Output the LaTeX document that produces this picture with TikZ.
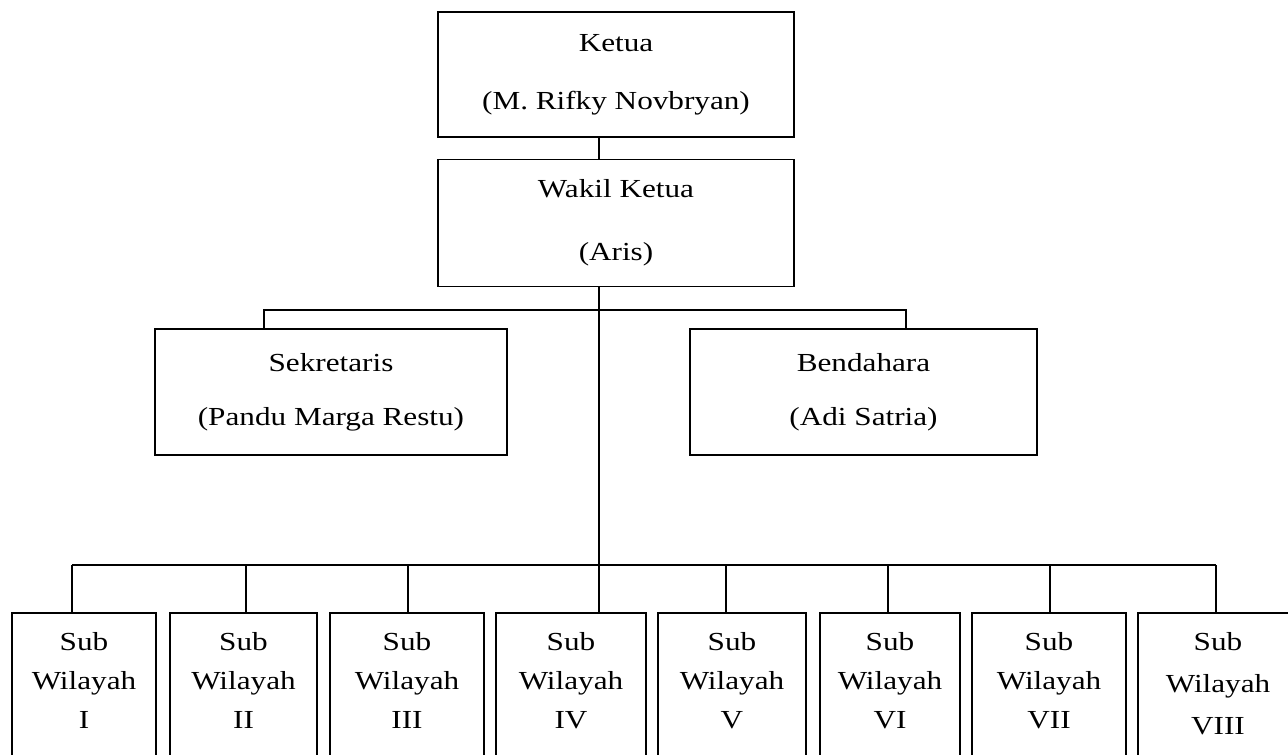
\documentclass[tikz,border=0pt]{standalone}
\usepackage{fontspec}
\setmainfont{Liberation Serif}[FakeStretch=1.2]
\usetikzlibrary{positioning}
\tikzset{x=1pt, y=-1pt, % One unit is one pixel, y runs downwards
  every node/.style={           align=center,
},
         box/.style={ % Sets the properties for each box
           draw,
           line width=1.6pt,
           inner sep=0pt},
         subbox/.style={ % Tall boxes of the bottom row
           box,
           anchor=north,
           minimum height=200pt},
         bigtext/.style={font=\fontsize{26}{58}\selectfont},
         subtext/.style={font=\fontsize{26}{39}\selectfont, inner sep=0pt},
         link/.style={  % Sets the properties for each connector
           draw,
           line width=1.6pt}}

\begin{document}
\begin{tikzpicture}
  \useasboundingbox (0,0) rectangle (1288,755);
  \clip (0,0) rectangle (1288,755);

  \node [box, bigtext, minimum width=356pt, minimum height=125pt] (ketua) at (616,74.5) {
    Ketua\\
    (M. Rifky Novbryan)
  };
  \node [box, bigtext, font=\fontsize{26}{63}\selectfont, minimum width=356pt, minimum height=127pt,
    below=21pt of ketua] (wakil) {
    Wakil Ketua\\
    (Aris)
  };

  \node [box, bigtext, font=\fontsize{26}{54}\selectfont, minimum width=352pt, minimum height=126pt] (sekre) at (331,392) {
    Sekretaris\\
    (Pandu Marga Restu)
  };
  \node [box, bigtext, font=\fontsize{26}{54}\selectfont, minimum width=347pt, minimum height=126pt] (benda) at (863.5,392) {
    Bendahara\\
    (Adi Satria)
  };

  % bottom row
  \node [subbox, minimum width=144pt] (sub1) at (84,612) {};
  \node [subbox, minimum width=147pt] (sub2) at (243.5,612) {};
  \node [subbox, minimum width=154pt] (sub3) at (407,612) {};
  \node [subbox, minimum width=150pt] (sub4) at (571,612) {};
  \node [subbox, minimum width=148pt] (sub5) at (732,612) {};
  \node [subbox, minimum width=140pt] (sub6) at (890,612) {};
  \node [subbox, minimum width=154pt] (sub7) at (1049,612) {};
  \node [subbox, minimum width=160pt] (sub8) at (1218,612) {};

  \node [subtext, below=20pt of sub1.north] (txt1) {Sub\\Wilayah\\I};
  \node [subtext, below=20pt of sub2.north] (txt2) {Sub\\Wilayah\\II};
  \node [subtext, below=20pt of sub3.north] (txt3) {Sub\\Wilayah\\III};
  \node [subtext, below=20pt of sub4.north] (txt4) {Sub\\Wilayah\\IV};
  \node [subtext, below=20pt of sub5.north] (txt5) {Sub\\Wilayah\\V};
  \node [subtext, below=20pt of sub6.north] (txt6) {Sub\\Wilayah\\VI};
  \node [subtext, below=20pt of sub7.north] (txt7) {Sub\\Wilayah\\VII};
  \node [subtext, below=20pt of sub8.north, font=\fontsize{26}{42}\selectfont] (txt8) {Sub\\Wilayah\\VIII};

  % connectors
  \coordinate (trunk) at (599,565);
  \coordinate (lbus) at (264,310);
  \coordinate (rbus) at (906,310);

  \draw [link] (ketua.south -| trunk) -- (wakil.north -| trunk);
  \draw [link] (wakil.south -| trunk) -- (trunk);
  \draw [link] (lbus |- sekre.north) -- (lbus) -- (rbus) -- (rbus |- benda.north);

  \coordinate (b1) at (72,565);
  \coordinate (b2) at (246,565);
  \coordinate (b3) at (408,565);
  \coordinate (b5) at (726,565);
  \coordinate (b6) at (888,565);
  \coordinate (b7) at (1050,565);
  \coordinate (b8) at (1216,565);

  \draw [link] (b1) -- (b8);
  \draw [link] (b1) -- (b1 |- sub1.north);
  \draw [link] (b2) -- (b2 |- sub2.north);
  \draw [link] (b3) -- (b3 |- sub3.north);
  \draw [link] (trunk) -- (trunk |- sub4.north);
  \draw [link] (b5) -- (b5 |- sub5.north);
  \draw [link] (b6) -- (b6 |- sub6.north);
  \draw [link] (b7) -- (b7 |- sub7.north);
  \draw [link] (b8) -- (b8 |- sub8.north);
\end{tikzpicture}
\end{document}
